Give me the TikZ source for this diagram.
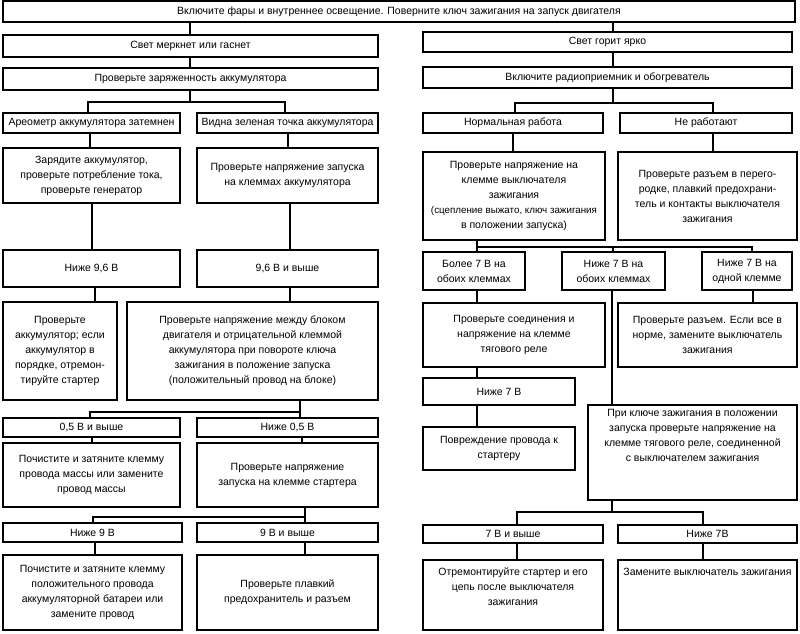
\documentclass[tikz,border=0pt]{standalone}
\usepackage{fontspec}
\setmainfont{Liberation Sans}
\newcommand\Bx[7][]{\node[box,#1,minimum width={(#5-#3)*1pt},minimum height={(#6-#4)*1pt}] (#2) at ({(#3+#5)/2},{(#4+#6)/2}) {#7};}
\begin{document}
\begin{tikzpicture}[x=1pt,y=-1pt,
  box/.style={draw,line width=1.3pt,inner sep=0pt,align=center,font=\fontsize{10.5}{15}\selectfont},
  conn/.style={line width=1.3pt},
  lbl/.style={inner sep=0pt,align=center,font=\fontsize{10.5}{15}\selectfont}]
\fill[white] (0,0) rectangle (800,634);
\useasboundingbox (0,0) rectangle (800,634);
% ---- boxes, left ----
\Bx{top}{3}{1}{795}{22}{Включите фары и внутреннее освещение. Поверните ключ зажигания на запуск двигателя}
\Bx{n1}{3}{35}{378}{57}{Свет меркнет или гаснет}
\Bx{n2}{3}{68}{378}{90}{Проверьте заряженность аккумулятора}
\Bx{n3}{3}{113}{180}{133}{Ареометр аккумулятора затемнен}
\Bx{n4}{197}{113}{378}{133}{Видна зеленая точка аккумулятора}
\Bx{n5}{3}{148}{180}{203}{Зарядите аккумулятор,\\проверьте потребление тока,\\проверьте генератор}
\Bx{n6}{197}{148}{378}{203}{Проверьте напряжение запуска\\на клеммах аккумулятора}
\Bx{n7}{3}{250}{180}{287}{Ниже 9,6 В}
\Bx{n8}{197}{250}{378}{287}{9,6 В и выше}
\Bx{n9}{3}{302}{117}{400}{Проверьте\\аккумулятор; если\\аккумулятор в\\порядке, отремон-\\тируйте стартер}
\Bx{n10}{127}{302}{378}{400}{Проверьте напряжение между блоком\\двигателя и отрицательной клеммой\\аккумулятора при повороте ключа\\зажигания в положение запуска\\(положительный провод на блоке)}
\Bx{n11}{3}{418}{180}{437}{0,5 В и выше}
\Bx{n12}{197}{418}{378}{437}{Ниже 0,5 В}
\Bx{n13}{3}{443}{180}{507}{Почистите и затяните клемму\\провода массы или замените\\провод массы}
\Bx{n14}{197}{443}{378}{507}{Проверьте напряжение\\запуска на клемме стартера}
\Bx{n15}{3}{523}{182}{542}{Ниже 9 В}
\Bx{n16}{197}{523}{378}{542}{9 В и выше}
\Bx{n17}{3}{555}{182}{630}{Почистите и затяните клемму\\положительного провода\\аккумуляторной батареи или\\замените провод}
\Bx{n18}{197}{555}{378}{630}{Проверьте плавкий\\предохранитель и разъем}
% ---- boxes, right ----
\Bx{r1}{423}{32}{792}{52}{Свет горит ярко}
\Bx{r2}{423}{67}{792}{88}{Включите радиоприемник и обогреватель}
\Bx{r3}{423}{113}{603}{133}{Нормальная работа}
\Bx{r4}{620}{113}{792}{133}{Не работают}
\Bx{r5}{423}{152}{605}{240}{Проверьте напряжение на\\клемме выключателя\\зажигания\\{\fontsize{9.8}{15}\selectfont(сцепление выжато, ключ зажигания}\\в положении запуска)}
\Bx{r6}{618}{152}{797}{240}{Проверьте разъем в перего-\\родке, плавкий предохрани-\\тель и контакты выключателя\\зажигания}
\Bx{r7}{423}{252}{525}{290}{Более 7 В на\\обоих клеммах}
\Bx{r8}{562}{252}{665}{290}{Ниже 7 В на\\обоих клеммах}
\Bx{r9}{702}{252}{792}{290}{Ниже 7 В на\\одной клемме}
\Bx{r10}{423}{303}{605}{367}{Проверьте соединения и\\напряжение на клемме\\тягового реле}
\Bx{r11}{618}{303}{797}{367}{Проверьте разъем. Если все в\\норме, замените выключатель\\зажигания}
\Bx{r12}{423}{378}{575}{405}{Ниже 7 В}
\Bx{r13}{423}{427}{575}{470}{Повреждение провода к\\стартеру}
\Bx{r14}{588}{405}{797}{500}{}
\Bx{r15}{423}{525}{603}{543}{7 В и выше}
\Bx{r16}{618}{525}{797}{543}{Ниже 7В}
\Bx{r17}{423}{560}{603}{630}{}
\Bx{r18}{618}{560}{797}{630}{}
\node[lbl,anchor=north] (r14t) at ([yshift=-5pt]r14.north) {При ключе зажигания в положении\\запуска проверьте напряжение на\\клемме тягового реле, соединенной\\с выключателем зажигания};
\node[lbl,anchor=north] (r17t) at ([yshift=-8pt]r17.north) {Отремонтируйте стартер и его\\цепь после выключателя\\зажигания};
\node[lbl,anchor=north] (r18t) at ([yshift=-9pt]r18.north) {Замените выключатель зажигания};
% ---- connector x positions ----
\coordinate (xa) at (190,0);
\coordinate (xb) at (613,0);
\coordinate (j1) at (190,102); \coordinate (j1l) at (88,102); \coordinate (j1r) at (285,102);
\coordinate (j2) at (613,103); \coordinate (j2l) at (515,103); \coordinate (j2r) at (713,103);
\coordinate (x90) at (90,0); \coordinate (x288) at (288,0);
\coordinate (x92) at (92,0); \coordinate (x290) at (290,0);
\coordinate (x95) at (95,0);
\coordinate (j3) at (300,412); \coordinate (j3l) at (90,412);
\coordinate (x302) at (302,0);
\coordinate (j4) at (305,517); \coordinate (j4l) at (93,517);
\coordinate (x305) at (305,0);
\coordinate (x513) at (513,0); \coordinate (x713) at (713,0);
\coordinate (j5) at (477,247); \coordinate (j5m) at (613,247); \coordinate (j5r) at (752,247);
\coordinate (x477) at (477,0); \coordinate (x753) at (753,0); \coordinate (x612) at (612,0);
\coordinate (j6) at (612,512); \coordinate (j6l) at (517,512); \coordinate (j6r) at (703,512);
% ---- connectors ----
\draw[conn] (top.south -| xa) -- (n1.north -| xa);
\draw[conn] (top.south -| xb) -- (r1.north -| xb);
\draw[conn] (n1.south -| xa) -- (n2.north -| xa);
\draw[conn] (n2.south -| j1) -- (j1);
\draw[conn] (n3.north -| j1l) -- (j1l) -- (j1r) -- (n4.north -| j1r);
\draw[conn] (r1.south -| xb) -- (r2.north -| xb);
\draw[conn] (r2.south -| j2) -- (j2);
\draw[conn] (r3.north -| j2l) -- (j2l) -- (j2r) -- (r4.north -| j2r);
\draw[conn] (n3.south -| x90) -- (n5.north -| x90);
\draw[conn] (n4.south -| x288) -- (n6.north -| x288);
\draw[conn] (n5.south -| x92) -- (n7.north -| x92);
\draw[conn] (n6.south -| x290) -- (n8.north -| x290);
\draw[conn] (n7.south -| x95) -- (n9.north -| x95);
\draw[conn] (n8.south -| x290) -- (n10.north -| x290);
\draw[conn] (n10.south -| j3) -- (j3) -- (j3l) -- (n11.north -| j3l);
\draw[conn] (j3) -- (n12.north -| j3);
\draw[conn] (n11.south -| x92) -- (n13.north -| x92);
\draw[conn] (n12.south -| x302) -- (n14.north -| x302);
\draw[conn] (n14.south -| j4) -- (j4) -- (j4l) -- (n15.north -| j4l);
\draw[conn] (j4) -- (n16.north -| j4);
\draw[conn] (n15.south -| x95) -- (n17.north -| x95);
\draw[conn] (n16.south -| x305) -- (n18.north -| x305);
\draw[conn] (r3.south -| x513) -- (r5.north -| x513);
\draw[conn] (r4.south -| x713) -- (r6.north -| x713);
\draw[conn] (r5.south -| j5) -- (r7.north -| j5);
\draw[conn] (j5) -- (j5r) -- (r9.north -| j5r);
\draw[conn] (j5m) -- (r8.north -| j5m);
\draw[conn] (r7.south -| x477) -- (r10.north -| x477);
\draw[conn] (r9.south -| x753) -- (r11.north -| x753);
\draw[conn] (r8.south -| x612) -- (r14.north -| x612);
\draw[conn] (r10.south -| x477) -- (r12.north -| x477);
\draw[conn] (r12.south -| x477) -- (r13.north -| x477);
\draw[conn] (r14.south -| j6) -- (j6);
\draw[conn] (r15.north -| j6l) -- (j6l) -- (j6r) -- (r16.north -| j6r);
\draw[conn] (r15.south -| j6l) -- (r17.north -| j6l);
\draw[conn] (r16.south -| j6r) -- (r18.north -| j6r);
\end{tikzpicture}
\end{document}
